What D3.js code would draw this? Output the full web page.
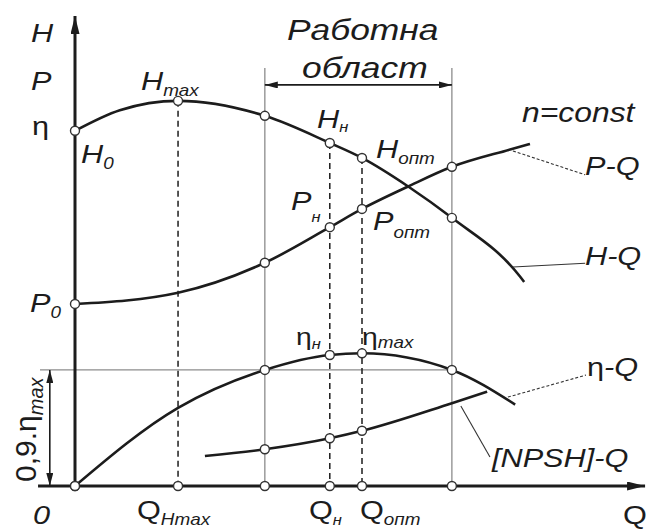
<!DOCTYPE html>
<html>
<head>
<meta charset="utf-8">
<script src="https://cdn.jsdelivr.net/npm/d3@7"></script>
<style>
  body { margin: 0; background: #fff; }
  svg { display: block; }
</style>
</head>
<body>
<div id="chart"></div>
<script>
// flow Q in relative units, H / P / eta in relative units (0..100)
const hQ     = [0, 8, 18.4, 33.9, 45.5, 51.25, 59.5, 67.3, 79.5, 80.2];
const hVal   = [75.9, 80.3, 82.3, 79.1, 73.3, 70.1, 64.0, 57.3, 44.7, 43.6];
const pQ     = [0, 18.4, 33.9, 45.5, 51.25, 59.5, 67.3, 77.7, 81.25];
const pVal   = [38.9, 41.3, 47.7, 55.3, 59.2, 64.0, 68.2, 71.9, 73.1];
const etaQ   = [0, 18.4, 33.9, 45.5, 51.25, 67.3, 78.6];
const etaVal = [0, 16.7, 24.8, 28.0, 28.35, 24.8, 17.4];
const npshQ   = [23.2, 33.9, 45.5, 51.25, 67.3, 73.6];
const npshVal = [6.4, 7.85, 10.2, 11.8, 17.7, 20.15];

// characteristic flows
const qHmax = 18.4, qLeft = 33.9, qN = 45.5, qOpt = 51.25, qRight = 67.3;
const etaLevel = 24.8;      // 0,9 * eta max
const zoneTop = 89.3;       // top of working-zone lines
const zoneArrow = 85.7;

// markers (Q values) on each curve
const hMarks = [0, qHmax, qLeft, qN, qOpt, qRight];
const pMarks = [0, qLeft, qN, qOpt, qRight];
const etaMarks = [0, qLeft, qN, qOpt, qRight];
const npshMarks = [qLeft, qN, qOpt];
const axisMarks = [0, qHmax, qLeft, qN, qOpt, qRight];

// leader lines [from Q, from v] -> [to Q, to v]
const leaders = [
  { name: 'P-Q',  pts: [[78.2, 71.6], [91.1, 66.5]], dash: '3,2' },
  { name: 'H-Q',  pts: [[78.2, 46.8], [91.1, 47.6]], dash: null },
  { name: 'eta',  pts: [[77.3, 19.0], [91.25, 23.7]], dash: '3,2' },
  { name: 'npsh', pts: [[68.9, 17.1], [74.1, 6.2]], dash: null }
];

const W = 649, H = 531;
const INK = '#1c1c1c', GREY = '#8c8c8c';
const FONT = '"Liberation Sans", Arial, sans-serif';
const SX = 1.18;

const svg = d3.select('#chart').append('svg')
  .attr('width', W).attr('height', H);

const x = d3.scaleLinear().domain([0, 100]).range([75, 635]);
const y = d3.scaleLinear().domain([0, 100]).range([486, 18]);

const defs = svg.append('defs');
function arrowMarker(id, len, wid) {
  defs.append('marker')
    .attr('id', id).attr('viewBox', `0 -${wid} ${len} ${wid * 2}`)
    .attr('refX', len).attr('refY', 0)
    .attr('markerWidth', len).attr('markerHeight', wid * 2)
    .attr('markerUnits', 'userSpaceOnUse')
    .attr('orient', 'auto-start-reverse')
    .append('path').attr('d', `M0,-${wid}L${len},0L0,${wid}Z`).attr('fill', INK);
}
arrowMarker('ax', 18, 4.5);
arrowMarker('dim', 13, 3.5);

const pick = (qs, vals, keys) => keys.map(k => [k, vals[qs.indexOf(k)]]);
const zip = (qs, vals) => qs.map((q, i) => [q, vals[i]]);

// working zone lines
[qLeft, qRight].forEach(q => {
  svg.append('line')
    .attr('x1', x(q)).attr('x2', x(q)).attr('y1', y(zoneTop)).attr('y2', y(0))
    .attr('stroke', GREY).attr('stroke-width', 1.3);
});
svg.append('line')
  .attr('x1', x(qLeft)).attr('x2', x(qRight)).attr('y1', y(zoneArrow)).attr('y2', y(zoneArrow))
  .attr('stroke', INK).attr('stroke-width', 1.6)
  .attr('marker-start', 'url(#dim)').attr('marker-end', 'url(#dim)');

// 0,9 eta max level
svg.append('line')
  .attr('x1', x(-6.25)).attr('x2', x(qRight)).attr('y1', y(etaLevel)).attr('y2', y(etaLevel))
  .attr('stroke', GREY).attr('stroke-width', 1.3);
svg.append('line')
  .attr('x1', x(-4.5)).attr('x2', x(-4.5)).attr('y1', y(etaLevel)).attr('y2', y(0))
  .attr('stroke', INK).attr('stroke-width', 1.6)
  .attr('marker-start', 'url(#dim)').attr('marker-end', 'url(#dim)');

// dashed verticals
const hAt = q => hVal[hQ.indexOf(q)];
[qHmax, qN, qOpt].forEach(q => {
  svg.append('line')
    .attr('x1', x(q)).attr('x2', x(q)).attr('y1', y(hAt(q))).attr('y2', y(0))
    .attr('stroke', INK).attr('stroke-width', 1.5).attr('stroke-dasharray', '6,4');
});

// axes
svg.append('line')
  .attr('x1', x(0)).attr('x2', x(0)).attr('y1', y(0) + 1.5).attr('y2', y(100) - 2)
  .attr('stroke', INK).attr('stroke-width', 3).attr('marker-end', 'url(#ax)');
svg.append('line')
  .attr('x1', x(-6.6)).attr('x2', x(101.8)).attr('y1', y(0)).attr('y2', y(0))
  .attr('stroke', INK).attr('stroke-width', 3).attr('marker-end', 'url(#ax)');

// curves
const line = d3.line().x(d => x(d[0])).y(d => y(d[1])).curve(d3.curveMonotoneX);
[zip(hQ, hVal), zip(pQ, pVal), zip(etaQ, etaVal), zip(npshQ, npshVal)].forEach(c => {
  svg.append('path').attr('d', line(c))
    .attr('fill', 'none').attr('stroke', INK).attr('stroke-width', 2.6);
});

// leaders
leaders.forEach(l => {
  svg.append('line')
    .attr('x1', x(l.pts[0][0])).attr('y1', y(l.pts[0][1]))
    .attr('x2', x(l.pts[1][0])).attr('y2', y(l.pts[1][1]))
    .attr('stroke', '#333').attr('stroke-width', 1.1)
    .attr('stroke-dasharray', l.dash);
});

// markers
const marks = [].concat(
  pick(hQ, hVal, hMarks),
  pick(pQ, pVal, pMarks),
  pick(etaQ, etaVal, etaMarks),
  pick(npshQ, npshVal, npshMarks),
  axisMarks.map(q => [q, 0])
);
svg.selectAll('circle.mk').data(marks).enter().append('circle')
  .attr('class', 'mk')
  .attr('cx', d => x(d[0])).attr('cy', d => y(d[1])).attr('r', 4.5)
  .attr('fill', '#fff').attr('stroke', '#333').attr('stroke-width', 1.4);

// labels
function label(px, py, parts, o) {
  o = o || {};
  const t = svg.append('text')
    .attr('transform', `translate(${px},${py})` + (o.rot ? ` rotate(${o.rot})` : '') + ` scale(${o.sx || SX},1)`)
    .attr('fill', INK).attr('font-family', FONT);
  parts.forEach(p => {
    t.append('tspan').text(p.t)
      .attr('font-size', p.s || 26)
      .attr('dy', p.dy || 0)
      .attr('font-style', p.up ? 'normal' : 'italic');
  });
}

label(31, 42, [{ t: 'H' }]);
label(31, 90, [{ t: 'P' }]);
label(32, 135, [{ t: 'η', up: true }]);
label(81, 163, [{ t: 'H' }, { t: '0', s: 16, dy: 6 }]);
label(30, 312, [{ t: 'P' }, { t: '0', s: 16, dy: 6 }]);
label(141, 90, [{ t: 'H' }, { t: 'max', s: 16, dy: 6 }]);
label(317, 128, [{ t: 'H' }, { t: 'н', s: 14, dy: 4 }]);
label(376, 158, [{ t: 'H' }, { t: 'опт', s: 16, dy: 6 }]);
label(291, 210, [{ t: 'P' }, { t: 'н', s: 14, dy: 12 }]);
label(373, 230, [{ t: 'P' }, { t: 'опт', s: 16, dy: 8 }]);
label(296, 345, [{ t: 'η', up: true, s: 24 }, { t: 'н', s: 14, dy: 4 }]);
label(362, 345, [{ t: 'η', up: true, s: 24 }, { t: 'max', s: 16, dy: 3 }]);
label(522, 122, [{ t: 'n=const', s: 27 }]);
label(585, 175, [{ t: 'P-Q' }]);
label(585, 265, [{ t: 'H-Q' }]);
label(587, 376, [{ t: 'η', up: true }, { t: '-Q' }]);
label(492, 467, [{ t: '[NPSH]-Q' }]);
label(33, 524, [{ t: '0' }]);
label(623, 524, [{ t: 'Q', up: true }]);
label(137, 519, [{ t: 'Q', up: true }, { t: 'Hmax', s: 16, dy: 6 }]);
label(309, 519, [{ t: 'Q', up: true }, { t: 'н', s: 14, dy: 6 }]);
label(360, 519, [{ t: 'Q', up: true }, { t: 'опт', s: 16, dy: 6 }]);
label(287, 40, [{ t: 'Работна', s: 30 }]);
label(302, 78, [{ t: 'област', s: 30 }]);
label(36, 482, [{ t: '0,9.η', s: 30, up: true }, { t: 'max', s: 20, dy: 7 }], { rot: -90, sx: 1 });
</script>
</body>
</html>
